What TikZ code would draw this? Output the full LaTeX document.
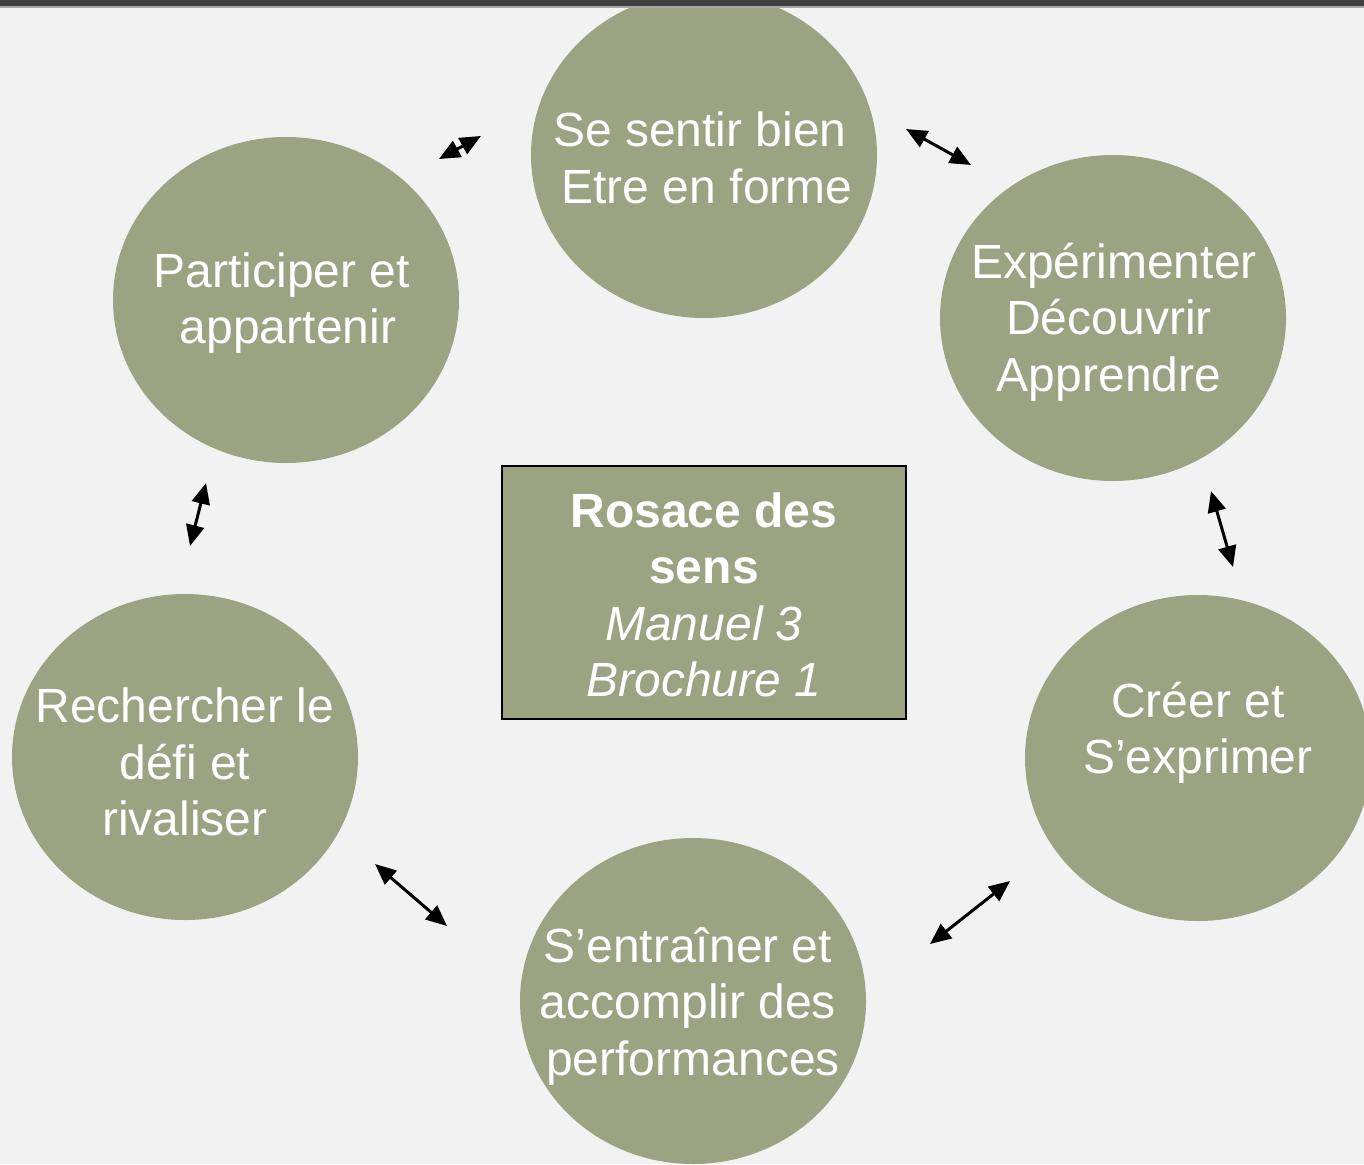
\documentclass[tikz,border=0pt]{standalone}
\usepackage{fontspec}
\setmainfont{Liberation Sans}
\usetikzlibrary{shapes.geometric,arrows.meta}
\definecolor{bg}{HTML}{F2F2F2}
\definecolor{olive}{HTML}{9CA383}
\definecolor{topbar}{HTML}{404040}
\definecolor{topline}{HTML}{A6A6A6}
\tikzset{
  blob/.style={ellipse, fill=olive, minimum width=346pt, minimum height=326pt, inner sep=0pt},
  lbl/.style={text=white, align=center, inner sep=0pt, font=\fontsize{48}{56.5}\selectfont},
  dbl/.style={{Triangle[length=21pt,width=18pt]}-{Triangle[length=21pt,width=18pt]}, line width=3pt, black},
}
\begin{document}
\begin{tikzpicture}[x=1pt,y=-1pt]
\useasboundingbox (0,0) rectangle (1364,1164);
\clip (0,0) rectangle (1364,1164);
\fill[bg] (0,0) rectangle (1364,1164);

% circles
\node[blob] (c1) at (704,155) {};
\node[blob] (c2) at (1113,318) {};
\node[blob] (c3) at (1198,758) {};
\node[blob] (c4) at (693,1001) {};
\node[blob] (c5) at (185,757) {};
\node[blob] (c6) at (286,300) {};

% top bar
\fill[topbar] (0,0) rectangle (1364,6.5);
\fill[topline] (0,6.5) rectangle (1364,8);

% labels
\node[lbl] (t1) at (700,158) {Se sentir bien\\\hspace*{14pt}Etre en forme};
\node[lbl] (t2) at (1109,322) {\hspace*{10pt}Expérimenter\\Découvrir\\Apprendre};
\node[lbl] (t3) at (1198,733) {Créer et\\S’exprimer};
\node[lbl] (t4) at (688,1006) {S’entraîner et\\accomplir des\\\hspace*{10pt}performances};
\node[lbl] (t5) at (185,762) {Rechercher le\\défi et\\rivaliser};
\node[lbl] (t6) at (282,303) {Participer et\\\hspace*{12pt}appartenir};

% centre box
\node[draw=black, line width=2pt, fill=olive, minimum width=404pt, minimum height=253pt, inner sep=0pt] (box) at (704,592.5) {};
\node[lbl] (bt) at (704,595) {\textbf{Rosace des}\\\textbf{sens}\\\textit{Manuel 3}\\\textit{Brochure 1}};

% arrow ends
\coordinate (a1s) at (439,159); \coordinate (a1e) at (481,136);
\coordinate (a2s) at (906,129); \coordinate (a2e) at (971,165);
\coordinate (a3s) at (1211,491); \coordinate (a3e) at (1233,567);
\coordinate (a4s) at (930,944); \coordinate (a4e) at (1010,881);
\coordinate (a5s) at (375,864); \coordinate (a5e) at (447,926);
\coordinate (a6s) at (190,546); \coordinate (a6e) at (206,483);

\draw[dbl] (a1s) -- (a1e);
\draw[dbl] (a2s) -- (a2e);
\draw[dbl] (a3s) -- (a3e);
\draw[dbl] (a4s) -- (a4e);
\draw[dbl] (a5s) -- (a5e);
\draw[dbl] (a6s) -- (a6e);
\end{tikzpicture}
\end{document}
